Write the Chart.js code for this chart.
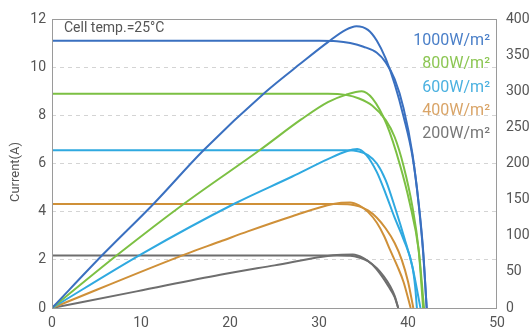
<!DOCTYPE html>
<html>
<head>
<meta charset="utf-8">
<script src="https://cdn.jsdelivr.net/npm/chart.js"></script>
<style>
  html, body { margin: 0; padding: 0; background: #fff; }
  #wrap { width: 530px; height: 329px; position: relative; }
</style>
</head>
<body>
<div id="wrap"><canvas id="ivChart"></canvas></div>
<script>
// Irradiance levels (legend order)
const levels = ['1000W/m²', '800W/m²', '600W/m²', '400W/m²', '200W/m²'];

// I-V curves: [voltage V, current A]
const cur1000 = [[0, 11.1], [30, 11.1], [32, 11.08], [33.5, 11.0], [35, 10.85], [36.5, 10.6], [37.5, 10.2], [38.5, 9.5], [39.5, 8.3], [40.5, 6.4], [41.2, 4.3], [41.7, 2.3], [42.1, 0]];
const cur800 = [[0, 8.9], [31, 8.9], [33, 8.85], [34.5, 8.7], [36, 8.4], [37.5, 7.8], [38.5, 7.1], [39.5, 5.9], [40.5, 4.2], [41.2, 2.4], [41.7, 0]];
const cur600 = [[0, 6.55], [33, 6.55], [34.5, 6.5], [35.5, 6.35], [36.5, 6.0], [37.5, 5.3], [38.6, 4.1], [39.6, 2.9], [40.5, 1.7], [41.4, 0]];
const cur400 = [[0, 4.32], [32, 4.32], [33.5, 4.3], [34.5, 4.22], [35.5, 4.05], [36.5, 3.75], [37.5, 3.3], [38.5, 2.7], [39.3, 2.0], [40, 1.1], [40.6, 0]];
const cur200 = [[0, 2.18], [32, 2.18], [33.5, 2.17], [34.5, 2.1], [35.5, 1.95], [36.5, 1.65], [37.3, 1.3], [38, 0.9], [38.5, 0.5], [38.9, 0]];

// P-V curves: [voltage V, power W]
const pow1000 = [[0, 0], [5.8, 75], [11.4, 144], [17, 218], [24, 299], [28, 339], [31, 368], [33, 385], [34.2, 390], [35.5, 385], [36.5, 370], [37.5, 345], [38.5, 310], [39.5, 265], [40.5, 210], [41.2, 145], [41.7, 80], [42.1, 0]];
const pow800 = [[0, 0], [7.5, 75], [14.8, 144], [23.4, 219], [28, 261], [31, 285], [33, 295], [34.8, 300], [36, 290], [37.6, 254], [39.1, 198], [40.2, 145], [41.2, 80], [41.8, 0]];
const pow600 = [[0, 0], [10.1, 75], [20.6, 145], [27, 182], [31, 206], [33.1, 217], [34.3, 220], [35.3, 212], [36.5, 188], [37.5, 158], [38.5, 125], [39.5, 95], [40.5, 57], [40.8, 30], [41.0, 0]];
const pow400 = [[0, 0], [15.1, 75], [18.9, 92], [22, 106], [27, 127], [31.6, 144], [33.5, 146], [34.5, 142], [35.5, 133], [36.5, 118], [37.3, 100], [38, 80], [38.8, 58], [39.5, 36], [40.3, 0]];
const pow200 = [[0, 0], [9.5, 23], [18.9, 46], [25, 59], [31.6, 73], [33.8, 74], [35, 69], [36, 60], [37, 45], [37.8, 30], [38.5, 15], [38.9, 0]];

// Axis ranges and ticks
const voltTicks = [0, 10, 20, 30, 40, 50];
const currentMax = 12;
const powerMax = 400;

const lineColors = ['#3a70c0', '#7cc043', '#2fa9e0', '#cf9038', '#6e6e6e'];
const labelColors = ['#4a7fc8', '#8cc653', '#4bb1e0', '#d9a467', '#777777'];

function toPoints(pairs) {
    return pairs.map(p => ({ x: p[0], y: p[1] }));
}

function makeSet(pairs, idx, axis) {
    return {
        data: toPoints(pairs),
        borderColor: lineColors[idx],
        borderWidth: 2,
        pointRadius: 0,
        fill: false,
        cubicInterpolationMode: 'monotone',
        yAxisID: axis
    };
}

/**
 * Box, annotation text, legend text and left title
 */
const decorPlugin = {
    id: 'decor',
    afterDraw(chart) {
        const ctx = chart.ctx;
        const a = chart.chartArea;
        ctx.save();
        ctx.strokeStyle = '#9a9a9a';
        ctx.lineWidth = 1;
        ctx.strokeRect(a.left + 0.5, a.top + 0.5, a.right - a.left - 1, a.bottom - a.top);

        ctx.fillStyle = '#555';
        ctx.font = '14px Roboto';
        ctx.textAlign = 'left';
        ctx.textBaseline = 'middle';
        ctx.fillText('Cell temp.=25°C', 64, 28);

        ctx.font = '16px Roboto';
        ctx.textAlign = 'right';
        const rows = [41, 64, 88, 111, 134];
        levels.forEach((t, i) => {
            ctx.fillStyle = labelColors[i];
            ctx.fillText(t, 490, rows[i]);
        });

        ctx.translate(16, 172);
        ctx.rotate(-Math.PI / 2);
        ctx.fillStyle = '#555';
        ctx.font = '13px Roboto';
        ctx.textAlign = 'center';
        ctx.fillText('Current(A)', 0, 0);
        ctx.restore();
    }
};

const ctx = document.getElementById('ivChart').getContext('2d');
new Chart(ctx, {
    type: 'line',
    data: {
        datasets: [
            makeSet(cur1000, 0, 'yI'), makeSet(pow1000, 0, 'yP'),
            makeSet(cur800, 1, 'yI'), makeSet(pow800, 1, 'yP'),
            makeSet(cur600, 2, 'yI'), makeSet(pow600, 2, 'yP'),
            makeSet(cur400, 3, 'yI'), makeSet(pow400, 3, 'yP'),
            makeSet(cur200, 4, 'yI'), makeSet(pow200, 4, 'yP')
        ]
    },
    options: {
        responsive: true,
        maintainAspectRatio: false,
        animation: false,
        layout: { padding: { top: 19, left: 0, right: 0, bottom: 0 } },
        plugins: { legend: { display: false }, tooltip: { enabled: false } },
        font: { family: 'Roboto' },
        scales: {
            x: {
                type: 'linear',
                min: 0,
                max: 50,
                afterBuildTicks: s => { s.ticks = voltTicks.map(v => ({ value: v })); },
                grid: { display: false, drawTicks: false },
                border: { display: false },
                ticks: { color: '#555', font: { family: 'Roboto', size: 14 }, padding: 7, maxRotation: 0 },
                afterFit: s => { s.height = 21; }
            },
            yI: {
                position: 'left',
                min: 0,
                max: currentMax,
                ticks: { stepSize: 2, color: '#555', font: { family: 'Roboto', size: 14 }, padding: 6 },
                grid: { color: '#d4d4d4', drawTicks: false, lineWidth: 1 },
                border: { display: false, dash: [4, 4] },
                afterFit: s => { s.width = 52; }
            },
            yP: {
                position: 'right',
                min: 0,
                max: powerMax,
                ticks: { stepSize: 50, color: '#555', font: { family: 'Roboto', size: 14 }, padding: 9 },
                grid: { display: false, drawTicks: false },
                border: { display: false },
                afterFit: s => { s.width = 33; }
            }
        }
    },
    plugins: [decorPlugin]
});
</script>
</body>
</html>
